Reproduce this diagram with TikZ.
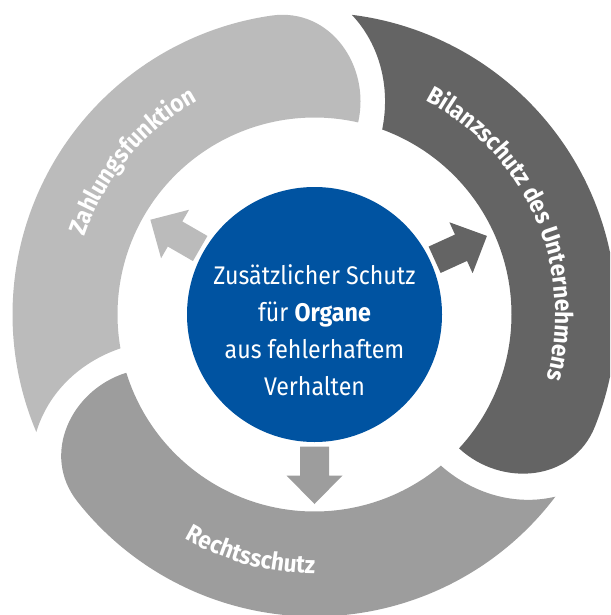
\documentclass[tikz,border=0pt]{standalone}
\usepackage{fontspec}
\setmainfont[FakeStretch=0.91]{Fira Sans}
\newfontfamily\ringfont[FakeStretch=0.92]{Fira Sans}
\usetikzlibrary{decorations.text}
\definecolor{segLight}{HTML}{BBBBBB}
\definecolor{segDark}{HTML}{646464}
\definecolor{segMid}{HTML}{9D9D9D}
\definecolor{coreBlue}{HTML}{0053A1}
\newcommand\ringseg[2]{%
  \fill[#2] (#1:197) .. controls (#1:254.8) and ({#1+9.86}:307.7) .. ({#1+21}:302)
    arc[start angle={#1+21}, end angle={#1+125.7}, radius=302]
    .. controls ({#1+119.2}:277.8) and ({#1+114.26}:239.8) .. ({#1+112.7}:197)
    arc[start angle={#1+112.7}, end angle={#1}, radius=197] -- cycle;}
\newcommand\ringarrow[2]{%
  \fill[#2, rotate=#1] (132,-14.5) -- (161,-14.5) -- (161,-28) -- (189.5,0)
    -- (161,28) -- (161,14.5) -- (132,14.5) -- cycle;}
\tikzset{
  ringlabel/.style={decorate, decoration={text along path, text align=center,
      text color=white, text={|\ringfont\bfseries\fontsize{24.5}{24.5}\selectfont|#1}}},
  corecircle/.style={circle, fill=coreBlue, minimum size=255, inner sep=0pt},
  coretextstyle/.style={text=white, align=center, font=\fontsize{25.5}{37}\selectfont}
}
\begin{document}
\begin{tikzpicture}[x=1pt, y=1pt]
\useasboundingbox (0,0) rectangle (610,-615);
\clip (0,0) rectangle (610,-615);
\begin{scope}[shift={(314.5,-314.5)}]
  \ringseg{77.2}{segLight}
  \ringseg{-42.8}{segDark}
  \ringseg{197.2}{segMid}
  \ringarrow{150}{segLight}
  \ringarrow{24.5}{segDark}
  \ringarrow{270}{segMid}
  \node[corecircle] (core) at (0,0) {};
  \node[coretextstyle] (coretext) at (0,-16)
    {Zusätzlicher Schutz\\für \textbf{Organe}\\aus fehlerhaftem\\Verhalten};
  \path[ringlabel={Zahlungsfunktion}] (200:243) arc[start angle=200, end angle=80, radius=243];
  \path[ringlabel={Bilanzschutz des Unternehmens}] (90:241) arc[start angle=90, end angle=-43, radius=241];
  \path[ringlabel={Rechtsschutz}] (205:259) arc[start angle=205, end angle=305, radius=259];
\end{scope}
\end{tikzpicture}
\end{document}
